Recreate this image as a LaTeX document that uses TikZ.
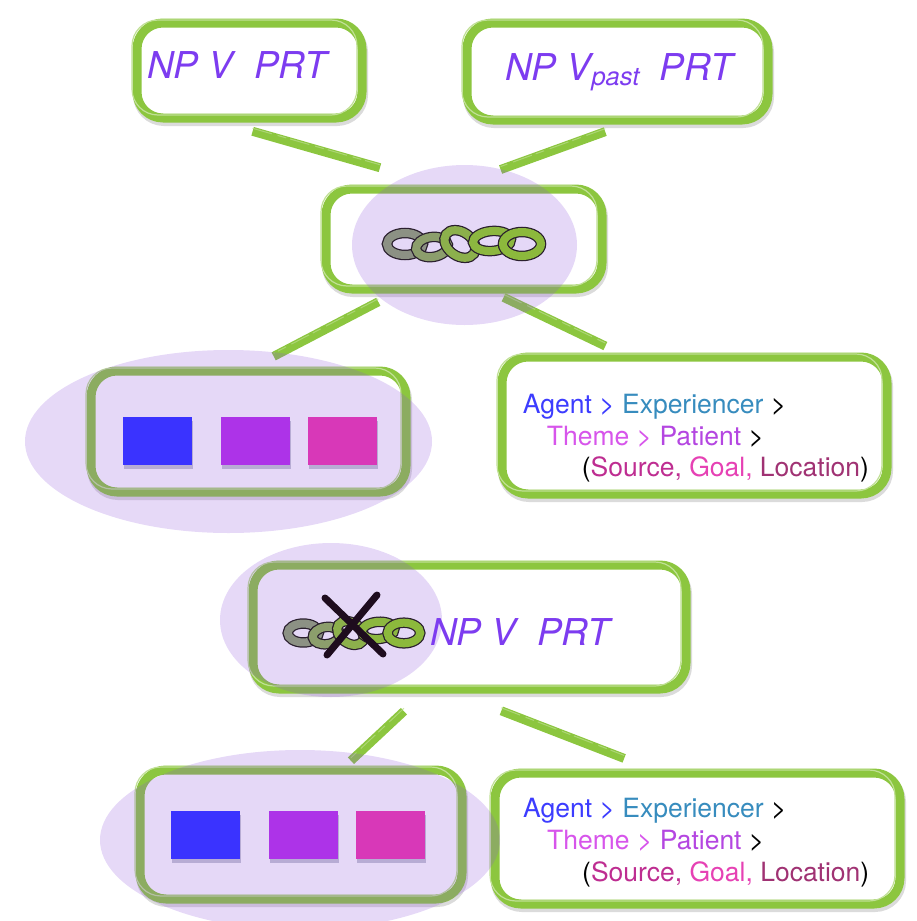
\documentclass[tikz,border=0pt]{standalone}
\usepackage{fontspec}
\setmainfont{TeX Gyre Heros}
\usetikzlibrary{positioning,shadows}

\definecolor{brushgreen}{RGB}{140,198,63}
\definecolor{hazepurple}{RGB}{140,80,220}
\definecolor{syntaxpurple}{RGB}{125,60,240}
\definecolor{roleblue}{RGB}{58,51,255}
\definecolor{rolepurple}{RGB}{173,51,232}
\definecolor{rolepink}{RGB}{216,56,184}
\definecolor{agentc}{RGB}{60,60,255}
\definecolor{expc}{RGB}{55,140,190}
\definecolor{themec}{RGB}{215,85,235}
\definecolor{patientc}{RGB}{180,70,225}
\definecolor{sourcec}{RGB}{190,45,145}
\definecolor{goalc}{RGB}{230,65,180}
\definecolor{locc}{RGB}{160,50,115}
\definecolor{linkgrey}{RGB}{140,140,140}
\definecolor{linkgreen}{RGB}{140,185,60}
\definecolor{linkink}{RGB}{42,31,46}
\definecolor{crossink}{RGB}{30,12,30}

% one chain of five links
\tikzset{linkchain/.pic={
  \foreach \cx/\cy/\rx/\ry/\rot/\mix in {-59/0/18/11/0/10,-32/3/16/10/8/40,-4/0/17/12/-35/80,28/-3/19/10/5/95,58/0/19/12/0/100}
  {
    \draw[linkink,line width=10.5pt,rotate around={\rot:(\cx,\cy)}] (\cx,\cy) ellipse [x radius=\rx,y radius=\ry];
    \draw[linkgreen!\mix!linkgrey,line width=8pt,rotate around={\rot:(\cx,\cy)}] (\cx,\cy) ellipse [x radius=\rx,y radius=\ry];
  }
}}

\begin{document}
\begin{tikzpicture}
	[x=1pt,y=-1pt,
	frame/.style={shape=rectangle,rounded corners=26pt,fill=white,draw=brushgreen,line width=9pt,inner sep=0pt,
		preaction={draw=black,draw opacity=.14,line width=10pt,transform canvas={shift={(1pt,-3pt)}}},
		postaction={draw=brushgreen!55!white,line width=1.2pt,transform canvas={shift={(-5pt,3pt)}}}},
	brush/.style={draw=brushgreen,line width=9pt,
		postaction={draw=brushgreen!60!white,draw opacity=.7,line width=1pt,dash pattern=on 20pt off 6pt on 9pt off 4pt,
			transform canvas={shift={(0pt,3pt)}}}},
	tint/.style={fill=hazepurple,fill opacity=.22},
	tile/.style={shape=rectangle,minimum width=69pt,minimum height=48pt,inner sep=0pt,
		drop shadow={shadow xshift=1pt,shadow yshift=-4pt,opacity=.2,fill=black!70!blue}},
	syntax/.style={text=syntaxpurple,inner sep=0pt,anchor=base west,font=\fontsize{37}{40}\selectfont\itshape},
	roles/.style={inner sep=0pt,anchor=base west,font=\fontsize{26.5}{31}\selectfont},
	cross/.style={draw=crossink,line width=7pt,line cap=round}]
	\useasboundingbox (0,0) rectangle (916,921);
	
	% frames
	\node [frame,minimum width=225pt,minimum height=95pt] (npv) at (249.5,70.5) {};
	\node [frame,minimum width=301pt,minimum height=97pt] (nppast) at (617.5,71.5) {};
	\node [frame,minimum width=276pt,minimum height=100pt] (link) at (464,239) {};
	\node [frame,minimum width=315pt,minimum height=121pt] (roles1) at (248.5,431.5) {};
	\node [frame,minimum width=385pt,minimum height=137pt] (hier1) at (694.5,425.5) {};
	\node [frame,minimum width=433pt,minimum height=124pt] (nolink) at (469.5,627) {};
	\node [frame,minimum width=322pt,minimum height=129pt] (roles2) at (301,834.5) {};
	\node [frame,minimum width=405pt,minimum height=131pt] (hier2) at (697.5,838.5) {};
	
	% brush strokes between frames
	\draw [brush,shorten <=32pt,shorten >=61pt] (npv.-118) -- (link.115);
	\draw [brush,shorten <=21pt,shorten >=44pt] (nppast.-82) -- (link.95);
	\draw [brush,shorten <=18pt,shorten >=22pt] (link.-142) -- (roles1.85);
	\draw [brush,shorten <=9pt,shorten >=15pt] (link.-60) -- (hier1.136);
	\draw [brush,shorten <=26pt,shorten >=7pt] (nolink.-125) -- (roles2.57);
	\draw [brush,shorten <=48pt,shorten >=28pt] (nolink.-101) -- (hier2.124);
	
	% purple haze
	\fill [tint] (464.5,245) ellipse [x radius=112.5,y radius=80];
	\fill [tint] (228.5,441.5) ellipse [x radius=203.5,y radius=91.5];
	\fill [tint] (331,620) ellipse [x radius=111,y radius=77];
	\fill [tint] (300,840) ellipse [x radius=200,y radius=90];
	
	% contents
	\node [syntax] (npvtext) at (147,78) {NP V\ \ PRT};
	\node [syntax] (nppasttext) at (505,80) {NP V\raisebox{-5pt}{\fontsize{25.5}{26}\selectfont past}\ \ PRT};
	
	\pic at (464,244) {linkchain};
	
	\node [tile,fill=roleblue] (agent1) at (157.5,441) {};
	\node [tile,fill=rolepurple] (theme1) at (255.5,441) {};
	\node [tile,fill=rolepink] (goal1) at (342.5,441) {};
	
	\node [roles] (hier1a) at (522.7,413) {{\color{agentc}Agent >} {\color{expc}Experiencer} >};
	\node [roles] (hier1b) at (546.7,445) {{\color{themec}Theme >} {\color{patientc}Patient} >};
	\node [roles] (hier1c) at (581.7,476.5) {({\color{sourcec}Source,} {\color{goalc}Goal,} {\color{locc}Location})};
	
	\pic [scale=.86] at (354,633) {linkchain};
	\draw [cross] (325,598) -- (383,654);
	\draw [cross] (377,595) -- (327,655);
	\node [syntax] (nolinktext) at (430,645) {NP V\ \ PRT};
	
	\node [tile,fill=roleblue] (agent2) at (205.5,835) {};
	\node [tile,fill=rolepurple] (theme2) at (303.5,835) {};
	\node [tile,fill=rolepink] (goal2) at (390.5,835) {};
	
	\node [roles] (hier2a) at (523,817) {{\color{agentc}Agent >} {\color{expc}Experiencer} >};
	\node [roles] (hier2b) at (547,849) {{\color{themec}Theme >} {\color{patientc}Patient} >};
	\node [roles] (hier2c) at (582,881) {({\color{sourcec}Source,} {\color{goalc}Goal,} {\color{locc}Location})};
	
\end{tikzpicture}
\end{document}
